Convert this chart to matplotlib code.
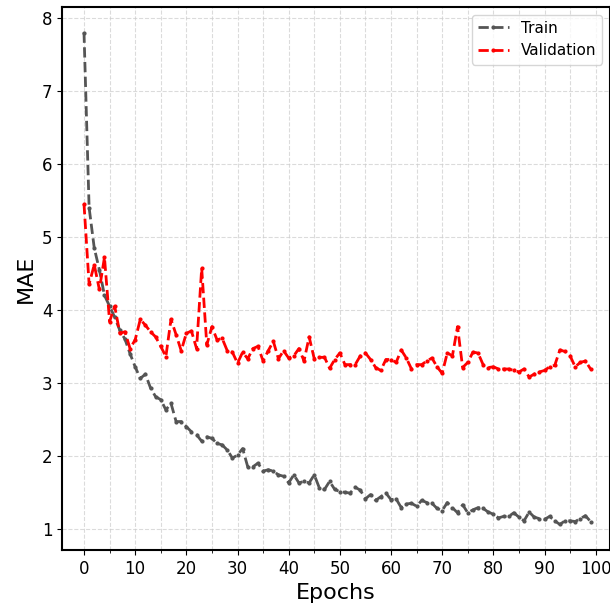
import matplotlib
matplotlib.use("Agg")
import matplotlib.pyplot as plt
from matplotlib.ticker import MultipleLocator

# MAE per epoch
train_mae = [
    7.80, 5.40, 4.85, 4.55, 4.20, 4.05, 3.90, 3.72, 3.60, 3.40,
    3.22, 3.06, 3.12, 2.93, 2.81, 2.77, 2.63, 2.72, 2.47, 2.47,
    2.40, 2.33, 2.29, 2.20, 2.26, 2.24, 2.17, 2.15, 2.08, 1.97,
    2.01, 2.10, 1.85, 1.85, 1.90, 1.79, 1.81, 1.79, 1.74, 1.72,
    1.63, 1.74, 1.63, 1.65, 1.63, 1.74, 1.56, 1.54, 1.65, 1.54,
    1.51, 1.50, 1.49, 1.57, 1.53, 1.41, 1.47, 1.39, 1.44, 1.49,
    1.40, 1.41, 1.29, 1.34, 1.35, 1.31, 1.39, 1.36, 1.35, 1.28,
    1.25, 1.36, 1.29, 1.22, 1.33, 1.22, 1.26, 1.29, 1.28, 1.23,
    1.20, 1.15, 1.17, 1.17, 1.22, 1.16, 1.11, 1.23, 1.16, 1.14,
    1.13, 1.17, 1.11, 1.06, 1.11, 1.11, 1.10, 1.14, 1.18, 1.10,
]
val_mae = [
    5.45, 4.35, 4.62, 4.28, 4.72, 3.84, 4.05, 3.68, 3.70, 3.47,
    3.59, 3.87, 3.79, 3.70, 3.63, 3.50, 3.36, 3.87, 3.66, 3.44,
    3.68, 3.71, 3.47, 4.57, 3.52, 3.77, 3.59, 3.61, 3.44, 3.42,
    3.27, 3.42, 3.33, 3.47, 3.50, 3.30, 3.44, 3.57, 3.33, 3.44,
    3.34, 3.37, 3.47, 3.30, 3.63, 3.33, 3.35, 3.35, 3.20, 3.32,
    3.41, 3.25, 3.25, 3.25, 3.37, 3.41, 3.32, 3.21, 3.17, 3.32,
    3.32, 3.28, 3.45, 3.34, 3.19, 3.25, 3.25, 3.30, 3.34, 3.22,
    3.13, 3.41, 3.37, 3.77, 3.21, 3.28, 3.42, 3.41, 3.25, 3.21,
    3.22, 3.19, 3.19, 3.19, 3.17, 3.15, 3.19, 3.08, 3.12, 3.15,
    3.17, 3.22, 3.24, 3.45, 3.43, 3.37, 3.22, 3.28, 3.30, 3.19,
]
epochs = list(range(len(train_mae)))

fig = plt.figure(figsize=(6.1, 6.08), dpi=100)
ax = fig.add_axes([62 / 610, 58 / 608, 548 / 610, 543 / 608])

ax.plot(epochs, train_mae, linestyle="--", color="#555555", linewidth=2,
        marker="o", markersize=2, label="Train")
ax.plot(epochs, val_mae, linestyle="--", color="red", linewidth=2,
        marker="o", markersize=2, label="Validation")

ax.set_xlim(-4.3, 102.8)
ax.set_ylim(0.71, 8.15)
ax.xaxis.set_major_locator(MultipleLocator(10))
ax.xaxis.set_minor_locator(MultipleLocator(5))
ax.yaxis.set_major_locator(MultipleLocator(1))

ax.grid(True, which="both", axis="x", linestyle="--", color="#cccccc", alpha=0.7)
ax.grid(True, which="major", axis="y", linestyle="--", color="#cccccc", alpha=0.7)

for side in ax.spines.values():
    side.set_linewidth(1.5)

ax.tick_params(labelsize=12)
ax.set_xlabel("Epochs", fontsize=16)
ax.set_ylabel("MAE", fontsize=16)
ax.legend(loc="upper right", fontsize=11)

fig.savefig("out.png", dpi=100)
